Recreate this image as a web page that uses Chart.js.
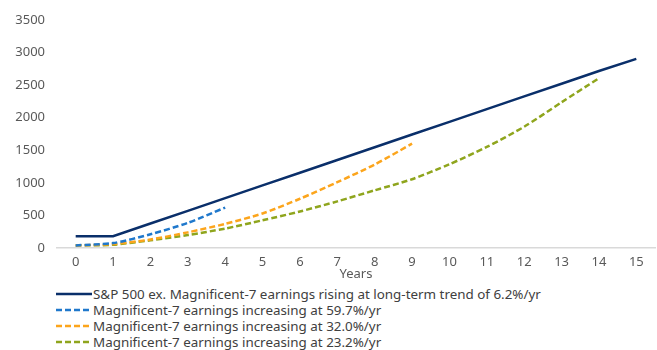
<!DOCTYPE html>
<html>
<head>
<meta charset="utf-8">
<script src="https://cdn.jsdelivr.net/npm/chart.js@4.4.1/dist/chart.umd.min.js"></script>
<style>
  html, body { margin: 0; padding: 0; background: #ffffff; }
  #wrap { position: relative; width: 657px; height: 350px; overflow: hidden; }
  #chartBox { position: absolute; left: 0; top: 0; width: 657px; height: 285px; }
  #legend { position: absolute; left: 56px; top: 286px; font-family: "Noto Sans", sans-serif;
            font-size: 13.4px; color: #404040; line-height: 16px; }
  .row { display: flex; align-items: center; height: 16px; white-space: nowrap; }
  .row svg { width: 36px; height: 4px; margin-right: 1px; flex: none; }
</style>
</head>
<body>
<div id="wrap">
  <div id="chartBox"><canvas id="c"></canvas></div>
  <div id="legend"></div>
</div>
<script>
// Years on the horizontal axis
const years = ['0','1','2','3','4','5','6','7','8','9','10','11','12','13','14','15'];

// S&P 500 ex. Magnificent-7 earnings path
const sp500ExMag7 = [180, 180, 375, 570, 765, 960, 1155, 1350, 1545, 1740, 1935, 2130, 2325, 2520, 2715, 2900];
// Magnificent-7 earnings paths at three growth rates
const mag7At597 = [40, 75, 210, 385, 620];
const mag7At320 = [40, 60, 130, 240, 370, 530, 755, 1010, 1280, 1600];
const mag7At232 = [40, 50, 118, 198, 298, 425, 560, 715, 885, 1055, 1285, 1550, 1860, 2235, 2605];

const yTicks = [0, 500, 1000, 1500, 2000, 2500, 3000, 3500];

const seriesNames = [
  'S&P 500 ex. Magnificent-7 earnings rising at long-term trend of 6.2%/yr',
  'Magnificent-7 earnings increasing at 59.7%/yr',
  'Magnificent-7 earnings increasing at 32.0%/yr',
  'Magnificent-7 earnings increasing at 23.2%/yr'
];
const seriesColors = ['#0a2f6a', '#1f78cc', '#fca51c', '#8fa51d'];
const dashes = [[], [6, 3], [6, 3], [6, 3]];

const FONT = '"Noto Sans", sans-serif';
const TICK = '#595959';

const datasets = [sp500ExMag7, mag7At597, mag7At320, mag7At232].map((d, i) => ({
  label: seriesNames[i],
  data: d,
  borderColor: seriesColors[i],
  backgroundColor: seriesColors[i],
  borderWidth: 2.5,
  borderDash: dashes[i],
  pointRadius: 0,
  tension: i === 0 ? 0 : 0.25,
  fill: false
}));

new Chart(document.getElementById('c'), {
  type: 'line',
  data: { labels: years, datasets },
  options: {
    responsive: true,
    maintainAspectRatio: false,
    animation: false,
    layout: { padding: { top: 16, right: 2, bottom: 0, left: 0 } },
    plugins: { legend: { display: false }, tooltip: { enabled: false } },
    scales: {
      x: {
        type: 'category',
        offset: true,
        grid: { display: false, drawTicks: false },
        border: { display: true, color: '#d9d9d9', width: 1.5 },
        ticks: { color: TICK, font: { family: FONT, size: 13 }, padding: 6, maxRotation: 0, autoSkip: false },
        title: { display: true, text: 'Years', color: TICK, font: { family: FONT, size: 13 }, padding: { top: 0, bottom: 3 } },
        afterFit: s => { s.height = 37; }
      },
      y: {
        min: 0, max: 3500,
        afterBuildTicks: s => { s.ticks = yTicks.map(v => ({ value: v })); },
        grid: { display: false, drawTicks: false },
        border: { display: false },
        ticks: { color: TICK, font: { family: FONT, size: 13 }, padding: 12, callback: v => String(v) },
        afterFit: s => { s.width = 57; }
      }
    }
  }
});

// Legend below the chart
const legend = document.getElementById('legend');
seriesNames.forEach((name, i) => {
  const row = document.createElement('div');
  row.className = 'row';
  const dash = dashes[i].length ? `stroke-dasharray="${dashes[i].join(' ')}"` : '';
  row.innerHTML = `<svg viewBox="0 0 36 4"><line x1="0" y1="2" x2="36" y2="2" stroke="${seriesColors[i]}" stroke-width="2.5" ${dash}/></svg><span>${name}</span>`;
  legend.appendChild(row);
});
</script>
</body>
</html>
